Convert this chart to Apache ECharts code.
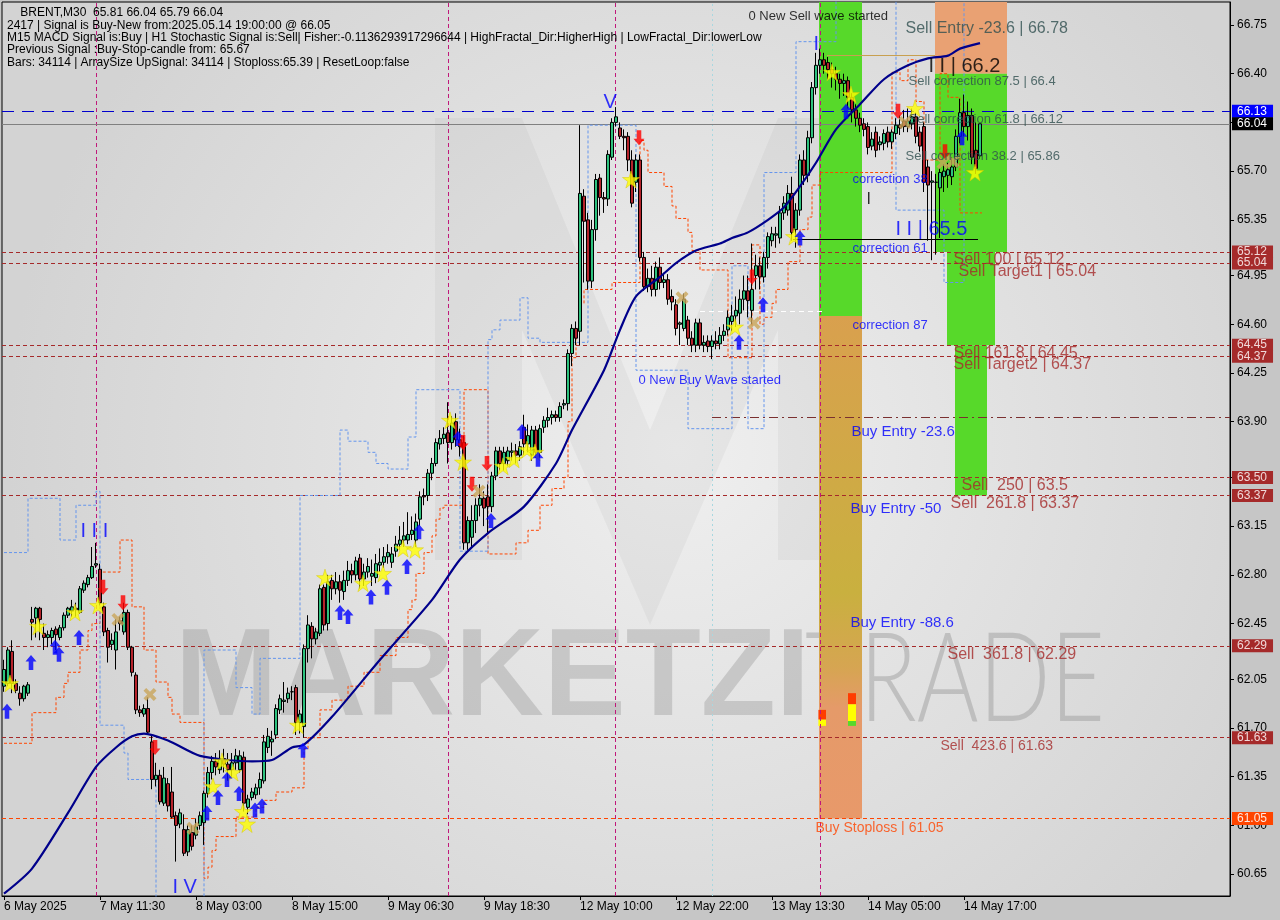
<!DOCTYPE html>
<html><head><meta charset="utf-8">
<script src="https://cdn.jsdelivr.net/npm/echarts@6/dist/echarts.min.js"></script>
<style>html,body{margin:0;padding:0;background:#c6c6c6}#c{width:1280px;height:920px}</style>
</head><body><div id="c"></div><script>
// ---------------- DATA ----------------
const xTickLabels = ['6 May 2025','7 May 11:30','8 May 03:00','8 May 15:00','9 May 06:30','9 May 18:30','12 May 10:00','12 May 22:00','13 May 13:30','14 May 05:00','14 May 17:00'];
const yTickLabels = [60.65,61.00,61.35,61.70,62.05,62.45,62.80,63.15,63.50,63.90,64.25,64.60,64.95,65.35,65.70,66.05,66.40,66.75];
// [open, close, low, high]
const ohlc = [
[62.00,62.12,61.96,62.19],[62.02,62.26,62.00,62.28],[62.25,62.02,61.95,62.33],[62.02,61.97,61.95,62.05],[61.95,61.91,61.86,62.00],
[61.91,62.00,61.89,62.01],[61.95,62.01,61.93,62.03],[62.48,62.46,62.33,62.57],[62.49,62.56,62.35,62.57],[62.56,62.48,62.33,62.57],
[62.38,62.35,62.26,62.45],[62.35,62.37,62.28,62.40],[62.35,62.40,62.30,62.42],[62.41,62.37,62.26,62.43],[62.35,62.42,62.33,62.44],
[62.42,62.51,62.40,62.53],[62.51,62.56,62.49,62.57],[62.54,62.57,62.50,62.62],[62.56,62.55,62.50,62.60],[62.53,62.70,62.52,62.72],
[62.69,62.74,62.67,62.76],[62.73,62.78,62.71,62.80],[62.78,62.86,62.77,63.00],[62.87,62.88,62.85,63.03],[62.84,62.60,62.58,62.88],
[62.57,62.39,62.36,62.60],[62.40,62.28,62.17,62.42],[62.30,62.33,62.26,62.38],[62.26,62.39,62.12,62.48],[62.47,62.45,62.40,62.50],
[62.39,62.53,62.37,62.60],[62.53,62.28,62.26,62.55],[62.28,62.10,62.07,62.29],[62.08,61.83,61.80,62.10],[61.83,61.81,61.78,61.86],
[61.80,61.84,61.78,61.87],[61.84,61.67,61.65,61.92],[61.60,61.33,61.26,61.65],[61.33,61.36,61.28,61.45],[61.36,61.17,61.15,61.40],
[61.16,61.34,61.14,61.42],[61.30,61.14,61.10,61.34],[61.24,61.06,61.05,61.42],[61.07,61.00,60.74,61.10],[61.01,61.09,60.98,61.12],
[60.97,60.80,60.78,61.08],[60.81,60.97,60.78,61.00],[60.95,60.85,60.82,61.00],[60.93,60.99,60.90,61.05],[61.00,61.07,60.97,61.10],
[61.02,61.23,60.86,61.25],[61.23,61.38,61.20,61.42],[61.38,61.46,61.33,61.50],[61.46,61.42,61.36,61.52],[61.40,61.48,61.37,61.54],
[61.48,61.44,61.38,61.55],[61.44,61.40,61.32,61.52],[61.40,61.45,61.35,61.52],[61.45,61.50,61.40,61.55],[61.40,61.50,61.38,61.54],
[61.49,61.16,61.10,61.53],[61.13,61.19,61.08,61.22],[61.20,61.24,61.18,61.27],[61.22,61.27,61.19,61.30],[61.27,61.33,61.22,61.38],
[61.32,61.60,61.30,61.65],[61.56,61.64,61.52,61.70],[61.60,61.62,61.50,61.68],[61.65,61.84,61.62,61.87],[61.83,61.91,61.80,61.94],
[61.89,61.90,61.81,62.03],[61.91,61.95,61.88,61.99],[61.96,61.96,61.90,62.00],[61.99,61.74,61.65,62.01],[61.74,61.80,61.66,61.83],
[61.71,62.27,61.63,62.30],[62.27,62.44,62.17,62.51],[62.43,62.34,62.20,62.46],[62.34,62.39,62.30,62.42],[62.38,62.70,62.36,62.73],
[62.71,62.44,62.40,62.73],[62.45,62.75,62.40,62.80],[62.76,62.70,62.62,62.80],[62.70,62.75,62.66,62.82],[62.75,62.69,62.60,62.80],
[62.68,62.76,62.62,62.83],[62.76,62.83,62.72,62.90],[62.83,62.80,62.74,62.88],[62.80,62.90,62.76,62.93],[62.92,62.77,62.70,62.95],
[62.77,62.82,62.72,62.88],[62.82,62.86,62.78,62.92],[62.79,62.81,62.72,62.91],[62.78,62.88,62.74,62.95],[62.87,62.89,62.82,62.99],
[62.89,62.93,62.85,63.00],[62.93,62.96,62.88,63.02],[62.89,62.95,62.85,63.00],[62.97,63.02,62.93,63.08],[63.02,63.05,62.98,63.15],
[63.05,63.08,63.00,63.18],[63.05,63.09,63.02,63.25],[63.09,63.12,63.05,63.22],[63.05,63.18,63.00,63.24],[63.20,63.36,63.15,63.40],
[63.37,63.36,63.30,63.42],[63.37,63.53,63.33,63.56],[63.53,63.60,63.48,63.64],[63.60,63.75,63.58,63.78],[63.74,63.78,63.70,63.84],
[63.78,63.81,63.74,63.86],[63.82,63.75,63.60,64.04],[63.75,63.89,63.70,63.94],[63.90,63.77,63.72,63.96],[63.77,63.72,63.65,63.85],
[63.75,63.03,62.98,63.80],[63.03,63.19,62.98,63.22],[63.07,63.19,63.00,63.30],[63.19,63.30,63.10,63.35],[63.30,63.35,63.22,63.45],
[63.35,63.28,63.15,63.40],[63.36,63.29,63.10,63.45],[63.29,63.51,63.25,63.54],[63.51,63.69,63.48,63.72],[63.69,63.60,63.55,63.72],
[63.60,63.68,63.55,63.72],[63.62,63.69,63.58,63.72],[63.68,63.69,63.62,63.75],[63.69,63.66,63.60,63.74],[63.66,63.72,63.62,63.76],
[63.86,63.74,63.66,63.95],[63.74,63.80,63.68,63.88],[63.66,63.84,63.62,63.87],[63.84,63.68,63.64,63.87],[63.68,63.85,63.64,63.88],
[63.86,63.91,63.82,63.94],[63.91,63.93,63.86,64.00],[63.93,63.95,63.88,63.98],[63.95,63.93,63.90,63.98],[63.93,64.01,63.90,64.04],
[64.02,64.03,63.99,64.06],[64.03,64.39,63.98,64.42],[64.39,64.57,64.30,64.60],[64.57,64.50,64.45,64.62],[64.55,65.54,64.45,66.03],
[65.52,65.34,64.90,65.57],[65.35,64.91,64.85,65.40],[64.91,65.28,64.86,65.35],[65.28,65.64,65.20,65.68],[65.65,65.51,65.38,65.68],
[65.51,65.50,65.40,65.55],[65.50,65.82,65.45,65.85],[65.80,66.05,65.78,66.08],[66.05,66.09,66.02,66.16],[66.01,65.95,65.93,66.05],
[65.95,65.94,65.85,66.00],[65.95,65.78,65.70,65.98],[65.78,65.47,65.44,65.85],[65.62,65.78,65.55,65.82],[65.78,65.08,65.05,65.82],
[65.08,64.87,64.84,65.12],[64.87,64.93,64.83,65.00],[64.93,64.85,64.80,65.02],[64.85,65.01,64.80,65.05],[65.01,64.90,64.85,65.08],
[64.90,64.92,64.86,64.97],[64.92,64.78,64.74,64.96],[64.80,64.76,64.70,64.85],[64.74,64.57,64.52,64.78],[64.60,64.61,64.45,64.62],
[64.57,64.78,64.55,64.82],[64.63,64.50,64.45,64.66],[64.50,64.45,64.40,64.55],[64.45,64.61,64.40,64.64],[64.61,64.45,64.42,64.64],
[64.45,64.47,64.40,64.52],[64.48,64.44,64.40,64.52],[64.44,64.48,64.35,64.52],[64.48,64.46,64.42,64.55],[64.46,64.52,64.42,64.58],
[64.52,64.55,64.48,64.60],[64.56,64.65,64.52,64.70],[64.62,64.66,64.55,64.74],[64.66,64.70,64.58,64.80],[64.68,64.78,64.60,64.85],
[64.78,64.84,64.70,64.95],[64.84,64.77,64.65,64.95],[64.70,64.85,64.60,65.18],[64.95,65.02,64.85,65.10],[65.02,64.94,64.85,65.08],
[64.94,65.08,64.90,65.12],[65.08,65.23,65.00,65.26],[65.20,65.25,65.16,65.30],[65.24,65.25,65.15,65.30],[65.22,65.40,65.18,65.45],
[65.40,65.47,65.35,65.52],[65.42,65.54,65.38,65.60],[65.54,65.26,65.20,65.66],[65.28,65.42,65.15,65.47],[65.42,65.78,65.38,65.82],
[65.78,65.67,65.60,65.85],[65.67,65.94,65.62,65.99],[65.94,66.30,65.90,66.34],[66.30,66.46,66.25,66.55],[66.46,66.50,66.40,66.58],
[66.50,66.46,66.40,66.55],[66.48,66.43,66.36,66.52],[66.43,66.40,66.30,66.48],[66.40,66.36,66.28,66.45],[66.36,66.33,66.22,66.40],
[66.33,66.35,66.24,66.40],[66.35,66.23,66.15,66.38],[66.23,66.14,66.05,66.26],[66.14,66.08,66.02,66.18],[66.08,66.03,65.98,66.12],
[66.04,66.00,65.95,66.08],[66.02,65.87,65.82,66.05],[65.88,65.93,65.85,65.98],[65.98,65.85,65.80,66.02],[65.89,65.91,65.85,65.95],
[65.90,65.97,65.85,66.00],[65.98,65.91,65.87,66.02],[65.91,65.98,65.86,66.00],[65.97,66.03,65.93,66.08],[66.03,66.01,65.96,66.10],
[66.06,66.02,65.98,66.14],[66.02,66.06,65.98,66.15],[66.04,66.09,66.00,66.15],[66.09,65.95,65.90,66.12],[65.98,65.88,65.84,66.02],
[66.02,65.62,65.55,66.05],[65.73,65.60,65.20,65.78],[65.62,65.63,65.06,65.70],[65.62,65.62,65.10,65.68],[65.58,65.69,65.22,65.72],
[65.66,65.70,65.55,65.75],[65.67,65.71,65.58,65.76],[65.66,65.73,65.60,65.80],[65.73,65.95,65.70,66.00],[65.95,66.12,65.90,66.22],
[66.12,66.02,65.95,66.25],[66.02,66.10,65.92,66.20],[66.10,65.80,65.75,66.15],[65.85,65.72,65.68,66.05],[65.81,66.04,65.79,66.04]
];
// moving average readings [bar, price]
const maLine = [[0,60.51],[7,60.69],[16,61.09],[23,61.42],[28,61.56],[32,61.64],[35,61.66],[41,61.61],[49,61.50],[62,61.46],[67,61.47],[72,61.56],[75,61.58],[82,61.78],[94,62.19],[107,62.62],[114,62.91],[121,63.10],[130,63.29],[138,63.60],[142,63.84],[150,64.27],[154,64.56],[158,64.80],[164,64.94],[168,65.04],[173,65.13],[179,65.18],[182,65.22],[186,65.26],[191,65.35],[195,65.44],[199,65.59],[203,65.76],[208,66.00],[214,66.18],[220,66.36],[226,66.46],[231,66.51],[236,66.53],[239,66.58],[244,66.62]];
// stepped trailing bands [bar, price]
const orangeBand = [[0,61.59],[7,61.81],[13,61.92],[15,62.02],[16,62.10],[19,62.26],[21,62.40],[22,62.45],[24,62.82],[29,63.05],[32,62.57],[35,62.26],[38,62.03],[41,61.92],[42,61.80],[44,61.74],[50,60.62],[51,60.70],[52,60.82],[53,60.92],[58,61.06],[63,61.13],[65,61.18],[68,61.24],[72,61.27],[75,61.55],[76,61.63],[79,61.83],[82,61.90],[86,62.00],[90,62.10],[94,62.22],[98,62.35],[101,62.55],[102,62.62],[103,62.81],[105,62.96],[107,63.08],[108,63.20],[109,63.28],[110,63.30],[115,64.13],[121,62.95],[128,63.03],[131,63.12],[134,63.30],[137,63.42],[140,63.50],[141,63.90],[142,64.36],[143,64.55],[144,64.75],[145,64.85],[152,64.90],[159,65.92],[160,65.85],[161,65.69],[165,65.59],[167,65.45],[168,65.36],[171,65.26],[172,65.13],[174,64.99],[181,64.36],[187,65.17],[189,64.60],[190,64.65],[192,64.75],[193,64.85],[196,65.05],[199,65.28],[201,65.37],[202,65.60],[204,65.69],[222,66.41],[224,66.35],[226,66.50],[228,66.20],[230,65.78],[232,65.78],[234,66.40],[236,66.23],[239,65.40],[244.5,65.40]];
const blueBand = [[0,62.96],[6,63.35],[14,63.05],[18,63.30],[23,63.40],[24,61.72],[30,61.52],[31,61.33],[38,60.40],[50,62.26],[58,61.99],[62,61.80],[64,62.20],[74,63.37],[84,63.84],[86,63.76],[91,63.68],[93,63.60],[96,63.56],[101,63.79],[103,64.13],[114,62.97],[121,64.49],[122,64.56],[124,64.63],[129,64.79],[131,64.50],[134,64.47],[146,66.03],[158,64.27],[171,63.85],[182,65.02],[186,63.85],[190,65.69],[198,66.63],[208,66.98],[223,65.42],[235,64.90],[240,66.98],[244.5,66.98]];
// signal marks [bar, price]
const stars = [[1.5,62.02],[8.5,62.43],[17.75,62.53],[23.5,62.58],[52.25,61.28],[54.5,61.46],[57.25,61.38],[59.75,61.10],[60.75,61.01],[73.5,61.72],[80.25,62.78],[89.75,62.74],[94.75,62.81],[99.75,62.99],[102.75,62.98],[111.5,63.91],[114.75,63.61],[124.75,63.58],[127.5,63.63],[130.75,63.70],[132.75,63.68],[156.75,65.64],[182.75,64.58],[197.5,65.23],[207,66.41],[211.75,66.25],[227.75,66.15],[242.75,65.69]];
const upArrows = [[0.75,61.82],[6.75,62.17],[12.75,62.28],[13.75,62.23],[18.75,62.35],[50.75,61.09],[53.5,61.20],[55.75,61.33],[58.75,61.23],[62.75,61.11],[64.5,61.14],[74.75,61.54],[84,62.53],[86,62.50],[91.75,62.64],[95.75,62.71],[100.75,62.86],[103.75,63.11],[113.5,63.78],[121.75,63.19],[129.5,63.83],[133.5,63.63],[183.75,64.47],[189.75,64.74],[199,65.22],[210.5,66.13],[239.5,65.94]];
const downArrows = [[24.75,62.71],[29.75,62.60],[37.75,61.56],[114.75,63.75],[117,63.45],[120.75,63.60],[158.75,65.94],[187,64.94],[223.5,66.13],[235.25,65.84]];
const crossMarks = [[28.5,62.48],[36.5,61.94],[47.25,60.98],[118.75,63.40],[169.5,64.79],[187.5,64.61],[225.25,66.05],[234.75,65.76],[237.25,65.77]];
// horizontal levels [price, kind]
const levels = [[66.13,'blue'],[66.04,'bid'],[65.12,'sell'],[65.04,'sell'],[64.45,'sell'],[64.37,'sell'],[63.50,'sell'],[63.37,'sell'],[62.29,'sell'],[61.63,'sell'],[61.05,'stop']];
// short segments [fromBar, toBar, price, kind]
const segments = [[177,306.5,63.93,'dashdot'],[197.25,243.5,65.21,'black'],[205.75,232.75,66.53,'tan'],[174,204.75,64.69,'white']];
// vertical markers [bar, kind]
const verticals = [[23,'pink'],[111,'pink'],[152.75,'pink'],[204,'pink'],[177,'cyan']];
// zones [fromBar, toBar, topPrice, bottomPrice, kind]
const zones = [
[203.75,214.5,66.915,64.66,'green'],[203.75,214.5,64.66,61.05,'grad'],
[232.75,250.75,66.915,66.40,'salmon'],[232.75,250.75,66.40,65.12,'green'],
[235.75,247.75,65.12,64.45,'green'],[237.75,245.75,64.45,63.37,'green'],
[203.6,205.5,61.83,61.76,'red'],[203.6,205.5,61.76,61.715,'yellow'],
[211,213,61.95,61.87,'red'],[211,213,61.87,61.75,'yellow'],[211,213,61.75,61.715,'lime']
];
// text annotations [text, bar, price]
const sellTexts = [['Sell 100 | 65.12',237.25,65.062],['Sell Target1 | 65.04',238.5,64.976],['Sell 161.8 | 64.45',237.25,64.387],['Sell Target2 | 64.37',237.25,64.308],['Sell  250 | 63.5',239.25,63.439],['Sell  261.8 | 63.37',236.5,63.309],['Sell  361.8 | 62.29',235.75,62.225]];
const sellSmallTexts = [['Sell  423.6 | 61.63',234,61.571]];
const slateBigTexts = [['Sell Entry -23.6 | 66.78',225.25,66.722]];
const slateTexts = [['Sell correction 87.5 | 66.4',226,66.348],['Sell correction 61.8 | 66.12',226,66.068],['Sell correction 38.2 | 65.86',225.25,65.809]];
const blueSmallTexts = [['correction 38',212,65.637],['correction 61',212,65.148],['correction 87',212,64.595],['0 New Buy Wave started',158.5,64.20]];
const buyTexts = [['Buy Entry -23.6',211.75,63.826],['Buy Entry -50',211.5,63.273],['Buy Entry -88.6',211.5,62.454]];
const stopTexts = [['Buy Stoploss | 61.05',202.75,60.982]];
const blackTexts = [['0 New Sell wave started',186,66.808]];
const waveBlueTexts = [['I I I',19,63.115],['I V',42,60.551],['V',149.75,66.19],['I',202.25,66.607],['I I | 65.5',222.75,65.278]];
const waveBlackTexts = [['I I | 66.2',231,66.449]];
const waveSmallTexts = [['I',215.5,65.493]];
const infoLines = ['    BRENT,M30  65.81 66.04 65.79 66.04','2417 | Signal is Buy-New from:2025.05.14 19:00:00 @ 66.05','M15 MACD Signal is:Buy | H1 Stochastic Signal is:Sell| Fisher:-0.1136293917296644 | HighFractal_Dir:HigherHigh | LowFractal_Dir:lowerLow','Previous Signal :Buy-Stop-candle from: 65.67','Bars: 34114 | ArraySize UpSignal: 34114 | Stoploss:65.39 | ResetLoop:false'];

// ---------------- STYLE / LAYOUT ----------------
const N_SLOTS = 307;
const FONT = '"Liberation Sans", Arial, sans-serif';
const cats = Array.from({length:N_SLOTS},(_,i)=>String(i));
const levelStyle = {
  blue:{line:{color:'#0000cd',type:[12,8],width:1},bg:'#0000ff',fg:'#ffffff'},
  bid:{line:{color:'#808080',type:'solid',width:1},bg:'#000000',fg:'#ffffff'},
  sell:{line:{color:'#a52a2a',type:[4,3],width:1},bg:'#a52a2a',fg:'#f0d8d8'},
  stop:{line:{color:'#ff4500',type:[4,3],width:1},bg:'#ff4500',fg:'#ffe8e0'}
};
const segStyle = {
  dashdot:{color:'#7a3030',type:[9,4,2,4],width:1},
  black:{color:'#000000',type:'solid',width:1},
  tan:{color:'#c8a050',type:'solid',width:1},
  white:{color:'#ffffff',type:[5,4],width:1}
};
const vStyle = {pink:{color:'#c0187a',type:[4,3],width:1},cyan:{color:'#a8d8e0',type:[2,3],width:1}};
const zoneStyle = {
  green:{color:'#57d92a'},
  salmon:{color:'#e9a173'},
  grad:{color:{type:'linear',x:0,y:0,x2:0,y2:1,colorStops:[{offset:0,color:'#d9a04e'},{offset:0.3,color:'#d0a946'},{offset:0.55,color:'#c9b03f'},{offset:0.7,color:'#d6a552'},{offset:0.78,color:'#e59a69'},{offset:1,color:'#e8996a'}]}},
  red:{color:'#ff3c00'},yellow:{color:'#ffff00'},lime:{color:'#57d92a'}
};
const SYM = {
  star:'path://M50,2 L61,38 L98,38 L68,60 L79,96 L50,74 L21,96 L32,60 L2,38 L39,38 Z',
  up:'path://M6,0 L12,6.5 L8.5,6.5 L8.5,15 L3.5,15 L3.5,6.5 L0,6.5 Z',
  down:'path://M3.5,0 L8.5,0 L8.5,8.5 L12,8.5 L6,15 L0,8.5 L3.5,8.5 Z',
  cross:'path://M0,2.5 L2.5,0 L6,3.5 L9.5,0 L12,2.5 L8.5,6 L12,9.5 L9.5,12 L6,8.5 L2.5,12 L0,9.5 L3.5,6 Z'
};

function textSeries(arr, color, size, weight){
  return {type:'scatter', xAxisIndex:1, z:8, symbolSize:1, itemStyle:{color:'rgba(0,0,0,0)'}, silent:true,
    data: arr.map(t=>[t[1],t[2],t[0]]),
    label:{show:true, position:'right', distance:0, formatter:p=>p.data[2], color:color, fontSize:size, fontFamily:FONT, fontWeight:weight||'normal'}};
}
function markSeries(arr, sym, size, color, border){
  return {type:'scatter', xAxisIndex:1, z:7, symbol:sym, symbolSize:size, data:arr, silent:true,
    itemStyle:{color:color, borderColor:border||color, borderWidth:border?0.6:0}};
}

// measure watermark widths
const mctx = document.createElement('canvas').getContext('2d');
mctx.font = 'bold 124px "Liberation Sans"'; const wM = mctx.measureText('MARKETZI').width || 640;
mctx.font = '300 124px Lato'; const wT = mctx.measureText('TRADE').width || 380;

const chart = echarts.init(document.getElementById('c'), null, {renderer:'canvas'});
const option = {
  animation:false,
  backgroundColor:'#c6c6c6',
  textStyle:{fontFamily:FONT},
  graphic:[
    {type:'rect', z:-20, shape:{x:2,y:2,width:1228,height:894}, style:{fill:new echarts.graphic.RadialGradient(0.55,0.5,0.75,[{offset:0,color:'#efefef'},{offset:1,color:'#d3d3d3'}])}},
    {type:'polygon', z:-15, shape:{points:[[435,118],[522,118],[650,430],[778,118],[862,118],[862,560],[778,560],[778,330],[650,625],[522,330],[522,560],[435,560]]}, style:{fill:'rgba(0,0,0,0.035)'}},
    {type:'text', z:-10, x:175, y:681, scaleX:635/wM, style:{text:'MARKETZI', font:'bold 124px "Liberation Sans"', fill:'rgba(150,150,150,0.38)', verticalAlign:'middle', align:'left'}},
    {type:'text', z:-10, x:805, y:681, scaleX:300/wT, style:{text:'TRADE', font:'300 124px Lato', fill:'rgba(150,150,150,0.45)', verticalAlign:'middle', align:'left'}},
  ].concat(infoLines.map((t,k)=>({type:'text', z:20, x:7, y:13+12.3*k, style:{text:t, font:'12px '+FONT, fill:'#000', verticalAlign:'middle'}}))),
  grid:{left:2, right:50, top:2, bottom:24, show:true, borderColor:'#000', borderWidth:1, backgroundColor:'transparent'},
  xAxis:[
    {type:'category', data:cats, boundaryGap:true, gridIndex:0,
     axisLine:{show:true, onZero:false, lineStyle:{color:'#000'}},
     axisTick:{show:true, alignWithLabel:true, length:4, interval:(i)=>i%24===0 && i/24<xTickLabels.length, lineStyle:{color:'#000'}},
     axisLabel:{show:true, interval:(i)=>i%24===0 && i/24<xTickLabels.length, formatter:(v,i)=>xTickLabels[i/24]||'', align:'left', margin:5, color:'#000', fontSize:12, fontFamily:FONT},
     splitLine:{show:false}},
    {type:'value', min:-0.5, max:N_SLOTS-0.5, show:false, gridIndex:0, splitLine:{show:false}, axisLine:{onZero:false}}
  ],
  yAxis:{type:'value', position:'right', min:60.493, max:66.915, scale:true,
    axisLine:{show:true, onZero:false, lineStyle:{color:'#000'}},
    axisTick:{show:true, customValues:yTickLabels, length:4, lineStyle:{color:'#000'}},
    axisLabel:{show:true, customValues:yTickLabels, formatter:v=>v.toFixed(2), color:'#000', fontSize:12, fontFamily:FONT, margin:7},
    splitLine:{show:false}},
  series:[
    {type:'line', xAxisIndex:1, data:[[0,62]], symbol:'none', lineStyle:{opacity:0}, silent:true,
     markArea:{silent:true, z:1, data: zones.map(zn=>[{coord:[zn[0],zn[2]], itemStyle:zoneStyle[zn[4]]},{coord:[zn[1],zn[3]]}])},
     markLine:{silent:true, symbol:['none','none'], z:3, label:{show:false},
       data: []
        .concat(verticals.map(v=>({xAxis:v[0], lineStyle:vStyle[v[1]], label:{show:false}})))
        .concat(segments.map(s=>[{coord:[s[0],s[2]], lineStyle:segStyle[s[3]], label:{show:false}},{coord:[s[1],s[2]]}]))
        .concat(levels.map(l=>({yAxis:l[0], lineStyle:levelStyle[l[1]].line,
          label:{show:true, position:'end', distance:2, formatter:l[0].toFixed(2), color:levelStyle[l[1]].fg, backgroundColor:levelStyle[l[1]].bg, padding:[1,6,0,5], fontSize:12, fontFamily:FONT}})))
     }},
    {type:'line', xAxisIndex:1, data:orangeBand, step:'end', symbol:'none', silent:true, z:3, lineStyle:{color:'#ff4500', width:1, type:[3,2]}},
    {type:'line', xAxisIndex:1, data:blueBand, step:'end', symbol:'none', silent:true, z:3, lineStyle:{color:'#6495ed', width:1, type:[3,2]}},
    {type:'candlestick', xAxisIndex:0, data:ohlc, barWidth:3, z:4,
     itemStyle:{color:'#2ec27e', color0:'#b5232b', borderColor:'#000', borderColor0:'#000', borderWidth:1}},
    {type:'line', xAxisIndex:1, data:maLine, smooth:0.25, symbol:'none', silent:true, z:5, lineStyle:{color:'#00008b', width:2.2}},
    markSeries(stars, SYM.star, 17, '#ffff00', '#d8c800'),
    markSeries(upArrows, SYM.up, [11,15], '#0000ff'),
    markSeries(downArrows, SYM.down, [11,15], '#ff0000'),
    markSeries(crossMarks, SYM.cross, 13, '#c9a55a'),
    textSeries(sellTexts,'#a52a2a',16),
    textSeries(sellSmallTexts,'#a52a2a',14),
    textSeries(slateBigTexts,'#2f4f4f',16),
    textSeries(slateTexts,'#2f4f4f',13),
    textSeries(blueSmallTexts,'#0000ff',13),
    textSeries(buyTexts,'#0000ff',15),
    textSeries(stopTexts,'#ff4500',14),
    textSeries(blackTexts,'#000000',13),
    textSeries(waveBlueTexts,'#0000ff',20),
    textSeries(waveBlackTexts,'#000000',20),
    textSeries(waveSmallTexts,'#000000',16)
  ]
};
chart.setOption(option);
</script></body></html>
